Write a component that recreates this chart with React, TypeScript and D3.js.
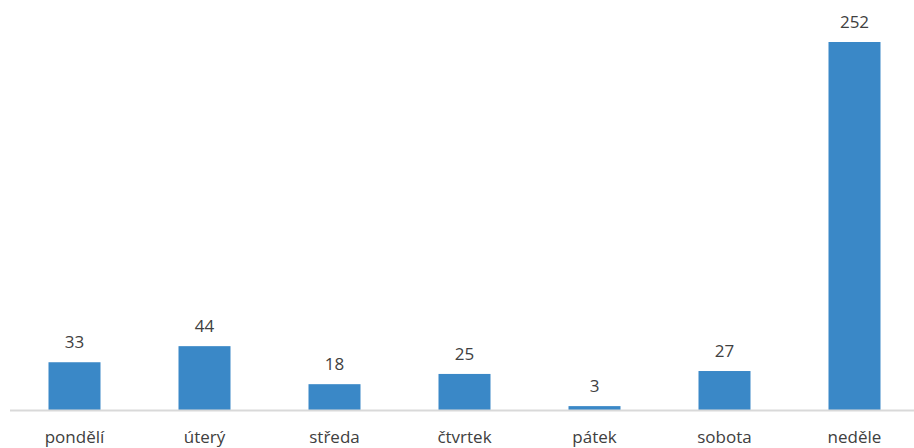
import React, { useEffect, useRef } from "react";
import * as d3 from "d3";

const days = ["pondělí", "úterý", "středa", "čtvrtek", "pátek", "sobota", "neděle"];
const counts = [33, 44, 18, 25, 3, 27, 252];

const WIDTH = 914;
const HEIGHT = 448;

const App: React.FC = () => {
  const svgRef = useRef<SVGSVGElement | null>(null);

  useEffect(() => {
    if (!svgRef.current) return;
    const svg = d3.select(svgRef.current);
    svg.selectAll("*").remove();

    const baseline = 410.5;

    const x = d3
      .scaleBand<string>()
      .domain(days)
      .range([9.5, 919.5])
      .paddingInner(0.6)
      .paddingOuter(0.3);

    const y = d3.scaleLinear().domain([0, 252]).range([baseline, 42]);

    const data = days.map((d, i) => ({ day: d, value: counts[i] }));

    // sloupce
    svg
      .selectAll(".bar")
      .data(data)
      .enter()
      .append("rect")
      .attr("class", "bar")
      .attr("x", (d) => x(d.day)!)
      .attr("y", (d) => y(d.value))
      .attr("width", x.bandwidth())
      .attr("height", (d) => baseline - y(d.value))
      .attr("fill", "#3a88c7");

    // osa
    svg
      .append("line")
      .attr("x1", 10)
      .attr("x2", WIDTH)
      .attr("y1", baseline)
      .attr("y2", baseline)
      .attr("stroke", "#d9d9d9")
      .attr("stroke-width", 2);

    // hodnoty
    svg
      .selectAll(".val")
      .data(data)
      .enter()
      .append("text")
      .attr("class", "val")
      .attr("x", (d) => x(d.day)! + x.bandwidth() / 2)
      .attr("y", (d) => y(d.value) - 14)
      .attr("text-anchor", "middle")
      .attr("font-family", "'Open Sans', sans-serif")
      .attr("font-size", 17)
      .attr("fill", "#404040")
      .text((d) => d.value);

    // popisky kategorií
    svg
      .selectAll(".cat")
      .data(data)
      .enter()
      .append("text")
      .attr("class", "cat")
      .attr("x", (d) => x(d.day)! + x.bandwidth() / 2)
      .attr("y", 443)
      .attr("text-anchor", "middle")
      .attr("font-family", "'Open Sans', sans-serif")
      .attr("font-size", 17)
      .attr("fill", "#404040")
      .text((d) => d.day);
  }, []);

  return (
    <svg
      ref={svgRef}
      width={WIDTH}
      height={HEIGHT}
      style={{ position: "absolute", left: 0, top: 0, background: "#fff" }}
    />
  );
};

export default App;
